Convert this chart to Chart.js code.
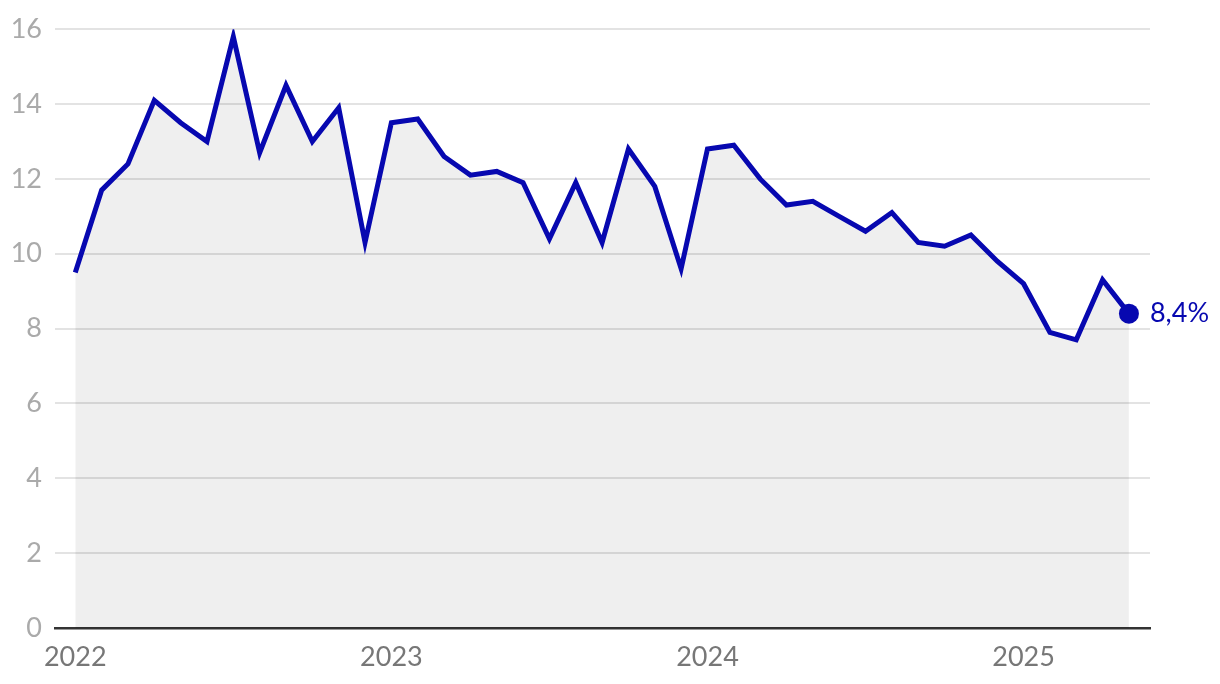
<!DOCTYPE html>
<html>
<head>
<meta charset="utf-8">
<script src="https://cdn.jsdelivr.net/npm/chart.js@4"></script>
<style>
  html, body { margin: 0; padding: 0; background: #fff; }
  #wrap { width: 1220px; height: 684px; }
</style>
</head>
<body>
<div id="wrap"><canvas id="chart" width="1220" height="684"></canvas></div>
<script>
const months = [
  '2022-01','2022-02','2022-03','2022-04','2022-05','2022-06','2022-07','2022-08','2022-09','2022-10','2022-11','2022-12',
  '2023-01','2023-02','2023-03','2023-04','2023-05','2023-06','2023-07','2023-08','2023-09','2023-10','2023-11','2023-12',
  '2024-01','2024-02','2024-03','2024-04','2024-05','2024-06','2024-07','2024-08','2024-09','2024-10','2024-11','2024-12',
  '2025-01','2025-02','2025-03','2025-04','2025-05'
];
const values = [
  9.5, 11.7, 12.4, 14.1, 13.5, 13.0, 15.8, 12.7, 14.5, 13.0, 13.9, 10.3,
  13.5, 13.6, 12.6, 12.1, 12.2, 11.9, 10.4, 11.9, 10.3, 12.8, 11.8, 9.6,
  12.8, 12.9, 12.0, 11.3, 11.4, 11.0, 10.6, 11.1, 10.3, 10.2, 10.5, 9.8,
  9.2, 7.9, 7.7, 9.3, 8.4
];
const yearTicks = ['2022', '2023', '2024', '2025'];
const yTicks = [0, 2, 4, 6, 8, 10, 12, 14, 16];
const lastLabel = '8,4%';

const blue = '#0708b0';
const font = 'Lato, "Open Sans", sans-serif';

const lastLabelPlugin = {
  id: 'lastLabel',
  afterDatasetsDraw(chart) {
    const meta = chart.getDatasetMeta(0);
    const pt = meta.data[meta.data.length - 1];
    const ctx = chart.ctx;
    ctx.save();
    ctx.fillStyle = blue;
    ctx.font = '27px ' + font;
    ctx.textBaseline = 'middle';
    ctx.fillText(lastLabel, pt.x + 21, pt.y);
    ctx.restore();
  }
};

new Chart(document.getElementById('chart'), {
  type: 'line',
  data: {
    datasets: [{
      data: values.map((v, i) => ({ x: i, y: v })),
      borderColor: blue,
      borderWidth: 5,
      backgroundColor: 'rgba(0,0,0,0.063)',
      fill: 'origin',
      tension: 0,
      pointRadius: ctx => ctx.dataIndex === values.length - 1 ? 10 : 0,
      pointBackgroundColor: blue,
      pointBorderWidth: 0,
      pointHoverRadius: 0
    }]
  },
  plugins: [lastLabelPlugin],
  options: {
    responsive: false,
    animation: false,
    layout: { padding: { top: 28, right: 70, bottom: 0, left: 0 } },
    plugins: { legend: { display: false }, tooltip: { enabled: false } },
    scales: {
      x: {
        type: 'linear',
        min: -0.77,
        max: 40.8,
        afterBuildTicks: s => { s.ticks = yearTicks.map((y, i) => ({ value: i * 12 })); },
        afterFit: s => { s.height = 56; },
        ticks: {
          callback: (v) => yearTicks[Math.round(v / 12)],
          color: '#777',
          font: { family: font, size: 27 },
          padding: 13,
          maxRotation: 0,
          autoSkip: false
        },
        grid: { display: false, drawTicks: false },
        border: { display: true, color: '#333', width: 2.5 }
      },
      y: {
        min: 0,
        max: 16,
        afterBuildTicks: s => { s.ticks = yTicks.map(v => ({ value: v })); },
        afterFit: s => { s.width = 55; },
        ticks: {
          color: '#aaa',
          font: { family: font, size: 27 },
          padding: 13
        },
        grid: { color: '#e3e3e3', lineWidth: 2, drawTicks: false },
        border: { display: false }
      }
    }
  }
});
</script>
</body>
</html>
